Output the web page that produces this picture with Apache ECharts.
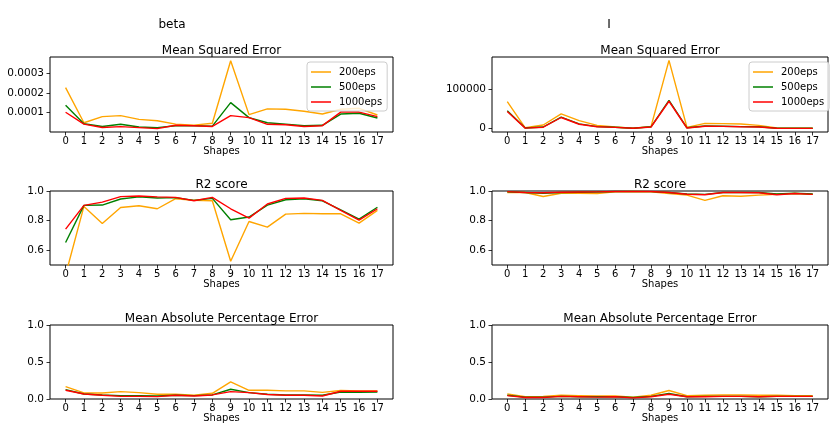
<!DOCTYPE html>
<html>
<head>
<meta charset="utf-8">
<script src="https://cdn.jsdelivr.net/npm/echarts@6/dist/echarts.min.js"></script>
<style>
  html, body { margin: 0; padding: 0; background: #fff; }
  #chart { width: 830px; height: 427px; }
</style>
</head>
<body>
<div id="chart"></div>
<script>
// Shape indices on the x axis
const shapes = [0, 1, 2, 3, 4, 5, 6, 7, 8, 9, 10, 11, 12, 13, 14, 15, 16, 17];
const runNames = ['200eps', '500eps', '1000eps'];
const runColors = ['#ffa500', '#008000', '#ff0000'];

// beta: mean squared error
const mseBeta200  = [0.000227, 0.000049, 0.000080, 0.000085, 0.000066, 0.000059, 0.000042, 0.000037, 0.000046, 0.000363, 0.000090, 0.000119, 0.000117, 0.000107, 0.000093, 0.000117, 0.000122, 0.000088];
const mseBeta500  = [0.000137, 0.000044, 0.000030, 0.000041, 0.000027, 0.000024, 0.000034, 0.000034, 0.000032, 0.000151, 0.000075, 0.000049, 0.000042, 0.000034, 0.000036, 0.000093, 0.000097, 0.000073];
const mseBeta1000 = [0.000102, 0.000042, 0.000025, 0.000029, 0.000024, 0.000019, 0.000036, 0.000034, 0.000030, 0.000085, 0.000075, 0.000041, 0.000039, 0.000030, 0.000034, 0.000103, 0.000103, 0.000080];

// beta: R2 score
const r2Beta200  = [0.433, 0.896, 0.780, 0.889, 0.900, 0.880, 0.948, 0.937, 0.934, 0.525, 0.794, 0.756, 0.844, 0.849, 0.846, 0.846, 0.783, 0.869];
const r2Beta500  = [0.652, 0.903, 0.905, 0.946, 0.960, 0.953, 0.955, 0.937, 0.950, 0.806, 0.824, 0.905, 0.941, 0.948, 0.934, 0.873, 0.810, 0.890];
const r2Beta1000 = [0.742, 0.903, 0.925, 0.962, 0.966, 0.960, 0.957, 0.934, 0.957, 0.880, 0.817, 0.912, 0.950, 0.953, 0.937, 0.869, 0.803, 0.880];

// beta: mean absolute percentage error
const mapeBeta200  = [0.168, 0.082, 0.082, 0.100, 0.086, 0.064, 0.064, 0.050, 0.077, 0.232, 0.118, 0.118, 0.110, 0.110, 0.090, 0.114, 0.110, 0.110];
const mapeBeta500  = [0.127, 0.068, 0.055, 0.045, 0.045, 0.040, 0.050, 0.045, 0.055, 0.132, 0.086, 0.064, 0.055, 0.055, 0.050, 0.095, 0.090, 0.095];
const mapeBeta1000 = [0.118, 0.068, 0.050, 0.036, 0.036, 0.032, 0.050, 0.040, 0.055, 0.100, 0.086, 0.060, 0.050, 0.050, 0.040, 0.105, 0.105, 0.105];

// I: mean squared error
const mseI200  = [68000, 2000, 9000, 37000, 20000, 8000, 4000, 1000, 5000, 172000, 3000, 13000, 12500, 11500, 8000, 1500, 1000, 1000];
const mseI500  = [45000, 1500, 4000, 29000, 12000, 5000, 3500, 1000, 4500, 71000, 2000, 6500, 6000, 5000, 4500, 1000, 800, 800];
const mseI1000 = [43000, 1200, 3500, 28000, 11000, 4500, 3000, 800, 4000, 69000, 1500, 6000, 5500, 4500, 4000, 800, 600, 600];

// I: R2 score
const r2I200  = [0.990, 0.990, 0.963, 0.985, 0.985, 0.982, 0.995, 0.997, 0.995, 0.983, 0.972, 0.937, 0.968, 0.965, 0.972, 0.978, 0.983, 0.978];
const r2I500  = [0.995, 0.990, 0.985, 0.990, 0.992, 0.993, 0.997, 0.997, 0.996, 0.990, 0.980, 0.977, 0.990, 0.990, 0.990, 0.980, 0.985, 0.980];
const r2I1000 = [0.996, 0.990, 0.988, 0.992, 0.993, 0.994, 0.997, 0.997, 0.997, 0.990, 0.978, 0.975, 0.990, 0.990, 0.988, 0.975, 0.983, 0.977];

// I: mean absolute percentage error
const mapeI200  = [0.070, 0.030, 0.035, 0.050, 0.045, 0.040, 0.040, 0.025, 0.050, 0.115, 0.045, 0.050, 0.055, 0.055, 0.050, 0.050, 0.045, 0.045];
const mapeI500  = [0.050, 0.025, 0.025, 0.035, 0.030, 0.030, 0.030, 0.020, 0.035, 0.075, 0.030, 0.035, 0.035, 0.035, 0.030, 0.035, 0.035, 0.035];
const mapeI1000 = [0.045, 0.020, 0.020, 0.035, 0.030, 0.025, 0.030, 0.015, 0.030, 0.065, 0.030, 0.030, 0.035, 0.035, 0.030, 0.035, 0.035, 0.035];

// y tick values and labels
const mseBetaTicks = [0.0001, 0.0002, 0.0003];
const mseBetaTickLabels = ['0.0001', '0.0002', '0.0003'];
const mseITicks = [0, 100000];
const mseITickLabels = ['0', '100000'];
const r2Ticks = [0.6, 0.8, 1.0];
const r2TickLabels = ['0.6', '0.8', '1.0'];
const mapeTicks = [0, 0.5, 1.0];
const mapeTickLabels = ['0.0', '0.5', '1.0'];

const columnTitles = ['beta', 'I'];
const panelTitles = ['Mean Squared Error', 'R2 score', 'Mean Absolute Percentage Error'];
const xAxisName = 'Shapes';

const FONT = 'DejaVu Sans';

// panel layout: column x extents and row y extents (pixels)
const colBox = [{ left: 50, width: 343 }, { left: 492, width: 336 }];
const rowBox = [{ top: 57, height: 75 }, { top: 191, height: 74 }, { top: 325, height: 74 }];

const panels = [
  { col: 0, row: 0, runs: [mseBeta200, mseBeta500, mseBeta1000], yMin: 0.000002, yMax: 0.000382, ticks: mseBetaTicks, labels: mseBetaTickLabels },
  { col: 0, row: 1, runs: [r2Beta200, r2Beta500, r2Beta1000], yMin: 0.5, yMax: 1.0, ticks: r2Ticks, labels: r2TickLabels },
  { col: 0, row: 2, runs: [mapeBeta200, mapeBeta500, mapeBeta1000], yMin: 0, yMax: 1.0, ticks: mapeTicks, labels: mapeTickLabels },
  { col: 1, row: 0, runs: [mseI200, mseI500, mseI1000], yMin: -8600, yMax: 180600, ticks: mseITicks, labels: mseITickLabels },
  { col: 1, row: 1, runs: [r2I200, r2I500, r2I1000], yMin: 0.5, yMax: 1.0, ticks: r2Ticks, labels: r2TickLabels },
  { col: 1, row: 2, runs: [mapeI200, mapeI500, mapeI1000], yMin: 0, yMax: 1.0, ticks: mapeTicks, labels: mapeTickLabels }
];

const grids = [], xAxes = [], yAxes = [], series = [], titles = [];

panels.forEach((p, idx) => {
  const c = colBox[p.col], r = rowBox[p.row];
  grids.push({
    left: c.left, width: c.width, top: r.top, height: r.height,
    show: true, borderColor: '#000', borderWidth: 1, backgroundColor: 'transparent'
  });
  xAxes.push({
    type: 'value', gridIndex: idx, min: -0.85, max: 17.85, position: 'bottom',
    name: xAxisName, nameLocation: 'middle', nameGap: 10,
    nameTextStyle: { fontFamily: FONT, fontSize: 10, color: '#000', verticalAlign: 'top' },
    axisLine: { show: false, onZero: false },
    axisTick: { show: true, customValues: shapes, length: 3.5, inside: false, lineStyle: { color: '#000', width: 0.8 } },
    axisLabel: { show: true, customValues: shapes, margin: 4, fontFamily: FONT, fontSize: 10, color: '#000',
      formatter: v => String(Math.round(v)) },
    splitLine: { show: false }
  });
  yAxes.push({
    type: 'value', gridIndex: idx, min: p.yMin, max: p.yMax, position: 'left',
    axisLine: { show: false, onZero: false },
    axisTick: { show: true, customValues: p.ticks, length: 3.5, inside: false, lineStyle: { color: '#000', width: 0.8 } },
    axisLabel: { show: true, customValues: p.ticks, margin: 6, fontFamily: FONT, fontSize: 10.5, color: '#000',
      formatter: v => {
        const k = p.ticks.findIndex(t => Math.abs(t - v) < 1e-9 * Math.max(1, Math.abs(t)));
        return k >= 0 ? p.labels[k] : '';
      } },
    splitLine: { show: false }
  });
  p.runs.forEach((vals, k) => {
    series.push({
      type: 'line', name: runNames[k], xAxisIndex: idx, yAxisIndex: idx,
      data: shapes.map((s, i) => [s, vals[i]]),
      symbol: 'none', clip: true,
      lineStyle: { color: runColors[k], width: 1.4 },
      itemStyle: { color: runColors[k] },
      emphasis: { disabled: true },
      animation: false
    });
  });
  titles.push({
    text: panelTitles[p.row], left: c.left + c.width / 2, top: r.top - 13, textAlign: 'center', padding: 0,
    textStyle: { fontFamily: FONT, fontSize: 12, fontWeight: 'normal', color: '#000', lineHeight: 14 }
  });
});

// column headers
titles.push({ text: columnTitles[0], left: 172, top: 18, textAlign: 'center', padding: 0,
  textStyle: { fontFamily: FONT, fontSize: 12, fontWeight: 'normal', color: '#000', lineHeight: 14 } });
titles.push({ text: columnTitles[1], left: 609, top: 18, textAlign: 'center', padding: 0,
  textStyle: { fontFamily: FONT, fontSize: 12, fontWeight: 'normal', color: '#000', lineHeight: 14 } });

const legendBase = {
  orient: 'vertical', top: 62, data: runNames,
  icon: 'rect', itemWidth: 20, itemHeight: 1.5, itemGap: 3,
  padding: [4, 5, 3, 4],
  backgroundColor: 'rgba(255,255,255,0.8)', borderColor: '#ccc', borderWidth: 1, borderRadius: 3,
  textStyle: { fontFamily: FONT, fontSize: 10, color: '#000', lineHeight: 12, padding: [0, 0, 0, 3] },
  selectedMode: false
};

const chart = echarts.init(document.getElementById('chart'), null, { renderer: 'canvas' });
chart.setOption({
  animation: false,
  backgroundColor: '#fff',
  title: titles,
  legend: [
    Object.assign({}, legendBase, { left: 307 }),
    Object.assign({}, legendBase, { left: 749 })
  ],
  grid: grids,
  xAxis: xAxes,
  yAxis: yAxes,
  series: series
});
</script>
</body>
</html>
